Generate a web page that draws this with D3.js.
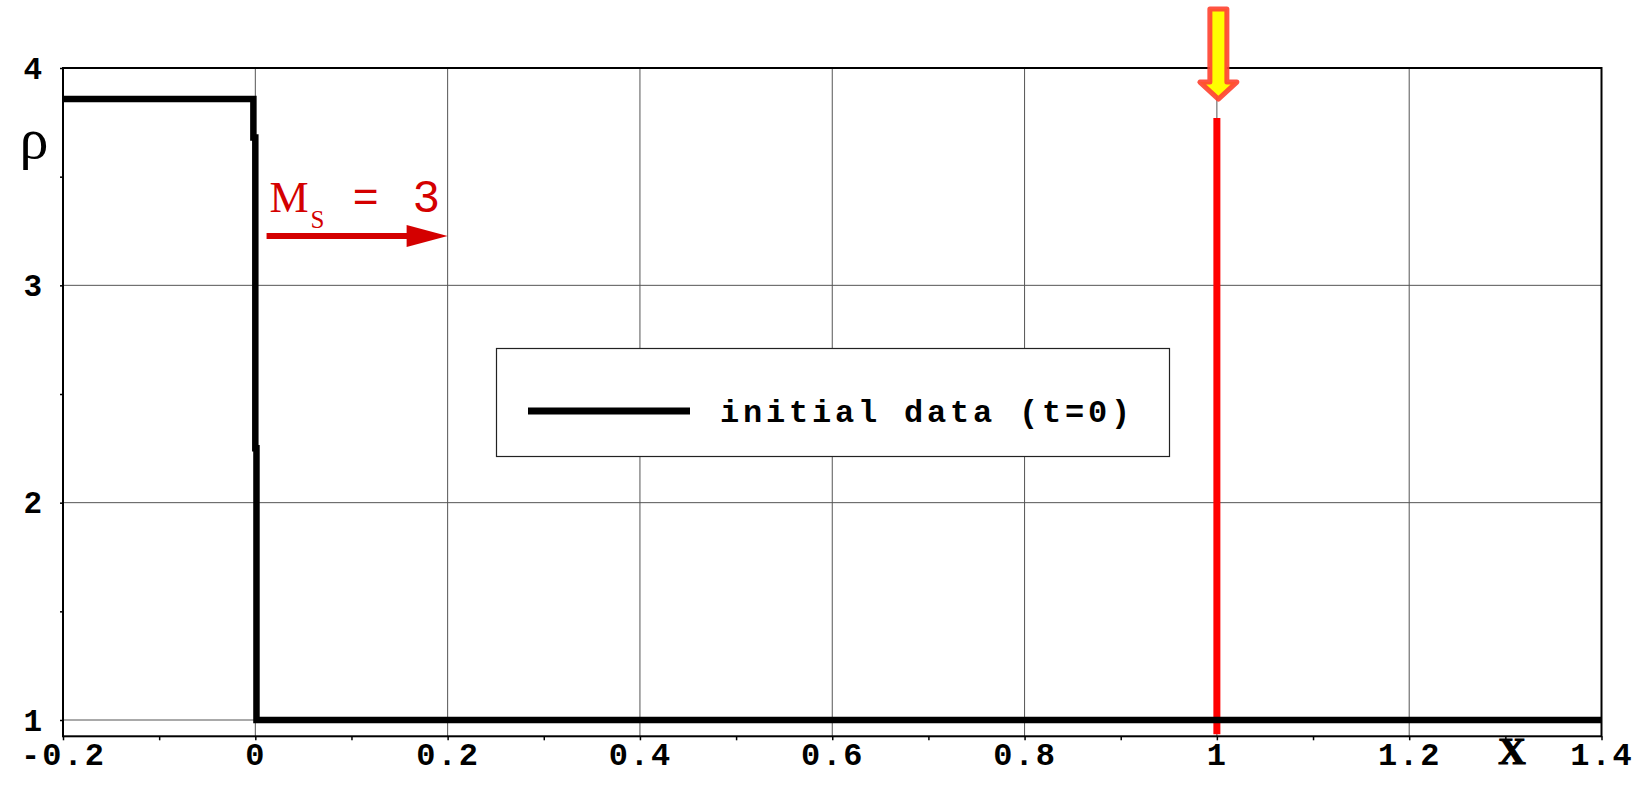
<!DOCTYPE html>
<html>
<head>
<meta charset="utf-8">
<script src="https://cdn.jsdelivr.net/npm/d3@7"></script>
<style>
  html, body { margin: 0; padding: 0; background: #fff; }
  svg { display: block; }
</style>
</head>
<body>
<svg id="chart" width="1646" height="785"></svg>
<script>
// ---------------- data ----------------
const xData   = [-0.2, -0.002, -0.002, 0, 0, 0.0012, 0.0012, 1.4];
const rhoData = [3.857, 3.857, 3.68, 3.68, 2.25, 2.25, 1, 1];

const xTicks = [-0.2, 0, 0.2, 0.4, 0.6, 0.8, 1, 1.2, 1.4];
const xTickLabels = ["-0.2", "0", "0.2", "0.4", "0.6", "0.8", "1", "1.2", "1.4"];
const xMinorTicks = [-0.1, 0.1, 0.3, 0.5, 0.7, 0.9, 1.1, 1.3];
const yTicks = [1, 2, 3, 4];
const yTickLabels = ["1", "2", "3", "4"];
const yMinorTicks = [1.5, 2.5, 3.5];

const markerX = 1;            // red probe line position
const markerRho = [0.935, 3.77];
const shockArrowX = [0.0117, 0.2];
const shockArrowRho = 3.227;
const machLabel = "3";
const legendLabel = "initial data (t=0)";
const xDomain = [-0.2, 1.4];
const yDomain = [0.925, 4];

// ---------------- layout ----------------
const svg = d3.select("#chart");
const x = d3.scaleLinear().domain(xDomain).range([63, 1601.5]);
const y = d3.scaleLinear().domain(yDomain).range([736.3, 68]);
const monoFont = "'Liberation Mono', 'DejaVu Sans Mono', monospace";
const serifFont = "'Liberation Serif', 'DejaVu Serif', serif";

// grid
const grid = svg.append("g");
grid.selectAll("line.gx").data(xTicks.filter(d => d > xDomain[0] && d < xDomain[1]))
  .join("line").attr("class", "gx")
  .attr("x1", d => x(d)).attr("x2", d => x(d))
  .attr("y1", y(yDomain[1])).attr("y2", y(yDomain[0]))
  .attr("stroke", "#555").attr("stroke-width", 1);
grid.selectAll("line.gy").data(yTicks.filter(d => d < yDomain[1]))
  .join("line").attr("class", "gy")
  .attr("x1", x(xDomain[0])).attr("x2", x(xDomain[1]))
  .attr("y1", d => y(d)).attr("y2", d => y(d))
  .attr("stroke", "#555").attr("stroke-width", 1);

// axes ticks
const xAxis = svg.append("g").attr("transform", `translate(0,${y(yDomain[0])})`)
  .call(d3.axisBottom(x).tickValues(xTicks).tickSize(4)
        .tickFormat((d, i) => xTickLabels[i]));
xAxis.select(".domain").remove();
xAxis.selectAll("line").attr("stroke", "#000").attr("stroke-width", 1.5);
xAxis.selectAll("text")
  .attr("y", 29).attr("dy", 0)
  .attr("font-family", monoFont).attr("font-weight", "bold")
  .attr("font-size", 32).attr("fill", "#000")
  .style("letter-spacing", "2px");

const xMinor = svg.append("g").attr("transform", `translate(0,${y(yDomain[0])})`)
  .call(d3.axisBottom(x).tickValues(xMinorTicks).tickSize(4).tickFormat(""));
xMinor.select(".domain").remove();
xMinor.selectAll("line").attr("stroke", "#000").attr("stroke-width", 1.5);

const yAxis = svg.append("g").attr("transform", `translate(${x(xDomain[0])},0)`)
  .call(d3.axisLeft(y).tickValues(yTicks).tickSize(3)
        .tickFormat((d, i) => yTickLabels[i]));
yAxis.select(".domain").remove();
yAxis.selectAll("line").attr("stroke", "#000").attr("stroke-width", 1.5);
yAxis.selectAll("text")
  .attr("x", -21).attr("dy", 10)
  .attr("font-family", monoFont).attr("font-weight", "bold")
  .attr("font-size", 31).attr("fill", "#000");

const yMinor = svg.append("g").attr("transform", `translate(${x(xDomain[0])},0)`)
  .call(d3.axisLeft(y).tickValues(yMinorTicks).tickSize(3).tickFormat(""));
yMinor.select(".domain").remove();
yMinor.selectAll("line").attr("stroke", "#000").attr("stroke-width", 1.5);

// frame
svg.append("rect")
  .attr("x", x(xDomain[0])).attr("y", y(yDomain[1]))
  .attr("width", x(xDomain[1]) - x(xDomain[0]))
  .attr("height", y(yDomain[0]) - y(yDomain[1]))
  .attr("fill", "none").attr("stroke", "#000").attr("stroke-width", 2);

// axis titles
svg.append("text").text("ρ")
  .attr("x", 34).attr("y", 158).attr("text-anchor", "middle")
  .attr("font-family", serifFont).attr("font-size", 58).attr("fill", "#000");
svg.append("text").text("X")
  .attr("x", 1512).attr("y", 764).attr("text-anchor", "middle")
  .attr("font-family", serifFont).attr("font-weight", "bold")
  .attr("font-size", 38).attr("fill", "#000")
  .attr("stroke", "#000").attr("stroke-width", 1.2);

// red marker line at x = 1
svg.append("line")
  .attr("x1", x(markerX)).attr("x2", x(markerX))
  .attr("y1", y(markerRho[1])).attr("y2", y(markerRho[0]))
  .attr("stroke", "#ff0000").attr("stroke-width", 7);

// data line
const pts = xData.map((d, i) => [d, rhoData[i]]);
svg.append("path")
  .attr("d", d3.line().x(d => x(d[0])).y(d => y(d[1]))(pts))
  .attr("fill", "none").attr("stroke", "#000").attr("stroke-width", 6.5)
  .attr("stroke-linejoin", "miter");

// yellow arrow at top pointing to x = 1
const ax = x(markerX) + 1.5;
const tipY = y(rhoData[0]);
const arrowPts = [
  [ax - 8.5, 9], [ax + 8.5, 9], [ax + 8.5, tipY - 17], [ax + 18.5, tipY - 17],
  [ax, tipY], [ax - 18.5, tipY - 17], [ax - 8.5, tipY - 17]
];
svg.append("polygon")
  .attr("points", arrowPts.map(p => p.join(",")).join(" "))
  .attr("fill", "#ffff00").attr("stroke", "#ff4433").attr("stroke-opacity", 0.92)
  .attr("stroke-width", 5).attr("stroke-linejoin", "round");

// Mach number annotation
const red = "#d40000";
const ay = y(shockArrowRho);
const x0 = x(shockArrowX[0]), x1 = x(shockArrowX[1]);
svg.append("line").attr("x1", x0).attr("x2", x1 - 38)
  .attr("y1", ay).attr("y2", ay).attr("stroke", red).attr("stroke-width", 6);
svg.append("polygon")
  .attr("points", `${x1 - 41},${ay - 11} ${x1},${ay} ${x1 - 41},${ay + 11}`)
  .attr("fill", red);
svg.append("text").text("M").attr("x", x0 + 3).attr("y", ay - 24)
  .attr("font-family", serifFont).attr("font-size", 44).attr("fill", red)
  .attr("textLength", 42);
svg.append("text").text("S").attr("x", x0 + 44).attr("y", ay - 8)
  .attr("font-family", serifFont).attr("font-size", 25).attr("fill", red);
svg.append("text").text("=").attr("x", x0 + 86).attr("y", ay - 24)
  .attr("font-family", monoFont).attr("font-size", 44).attr("fill", red);
svg.append("text").text(machLabel).attr("x", x0 + 146).attr("y", ay - 24)
  .attr("font-family", monoFont).attr("font-size", 46).attr("fill", red);

// legend
const lg = svg.append("g");
lg.append("rect").attr("x", 496.5).attr("y", 348.5).attr("width", 673).attr("height", 108)
  .attr("fill", "#fff").attr("stroke", "#222").attr("stroke-width", 1.2);
lg.append("line").attr("x1", 528).attr("x2", 690).attr("y1", 411).attr("y2", 411)
  .attr("stroke", "#000").attr("stroke-width", 7);
lg.append("text").text(legendLabel).attr("x", 720).attr("y", 422)
  .attr("font-family", monoFont).attr("font-weight", "bold")
  .attr("font-size", 32).attr("fill", "#000").style("letter-spacing", "3.8px");
</script>
</body>
</html>
